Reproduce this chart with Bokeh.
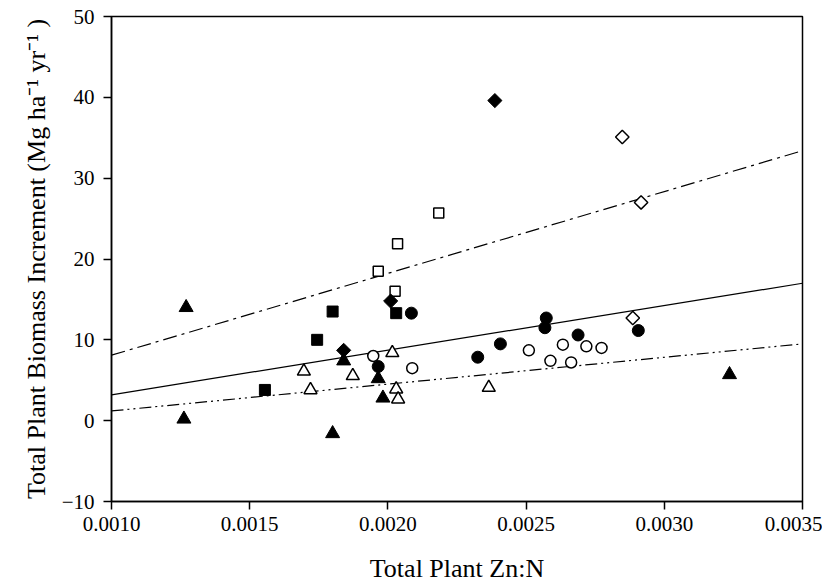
from bokeh.plotting import figure
from bokeh.models import Range1d, FixedTicker, NumeralTickFormatter
from bokeh.embed import file_html
from bokeh.resources import INLINE

# ---- data ----
x_ticks = [0.0010, 0.0015, 0.0020, 0.0025, 0.0030, 0.0035]
y_ticks = [-10, 0, 10, 20, 30, 40, 50]

tri_f_x = [0.00127, 0.001262, 0.00184, 0.00180, 0.001965, 0.001982, 0.003236]
tri_f_y = [14.0, 0.2, 7.4, -1.6, 5.2, 2.8, 5.7]

tri_o_x = [0.001696, 0.00172, 0.001873, 0.002016, 0.00203, 0.002037, 0.002365]
tri_o_y = [6.1, 3.8, 5.55, 8.4, 3.9, 2.65, 4.1]

cir_f_x = [0.001965, 0.002085, 0.002325, 0.002407, 0.002573, 0.002568, 0.002688, 0.002906]
cir_f_y = [6.7, 13.3, 7.85, 9.5, 12.7, 11.5, 10.6, 11.15]

cir_o_x = [0.001947, 0.002088, 0.00251, 0.002588, 0.002633, 0.002663, 0.002718, 0.002773]
cir_o_y = [8.0, 6.5, 8.7, 7.4, 9.4, 7.2, 9.2, 9.0]

sq_f_x = [0.001555, 0.001744, 0.00180, 0.00203]
sq_f_y = [3.8, 10.0, 13.5, 13.3]

sq_o_x = [0.001965, 0.002026, 0.002035, 0.002184]
sq_o_y = [18.5, 16.0, 21.9, 25.7]

dia_f_x = [0.00184, 0.00201, 0.002387]
dia_f_y = [8.7, 14.8, 39.6]

dia_o_x = [0.002886, 0.002916, 0.002848]
dia_o_y = [12.7, 27.0, 35.1]

fit_x = [0.0010, 0.0035]
fit_upper = [8.1, 33.4]
fit_mid = [3.2, 17.0]
fit_lower = [1.2, 9.5]

FONT = "Liberation Serif"

p = figure(width=822, height=585,
           x_range=Range1d(x_ticks[0], x_ticks[-1]),
           y_range=Range1d(y_ticks[0], y_ticks[-1]),
           output_backend="svg", toolbar_location=None,
           min_border_left=111, min_border_right=20,
           min_border_top=16, min_border_bottom=84)

p.background_fill_color = "white"
p.border_fill_color = "white"
p.outline_line_color = "black"
p.outline_line_width = 1.5
p.xgrid.visible = False
p.ygrid.visible = False

for ax in (p.xaxis[0], p.yaxis[0]):
    ax.axis_line_color = "black"
    ax.axis_line_width = 1.5
    ax.major_tick_line_color = "black"
    ax.major_tick_line_width = 1.5
    ax.major_tick_out = 8
    ax.major_tick_in = 0
    ax.minor_tick_line_color = None
    ax.major_label_text_font = FONT
    ax.major_label_text_font_size = "21px"
    ax.major_label_text_color = "black"
    ax.axis_label_text_font = FONT
    ax.axis_label_text_font_size = "26px"
    ax.axis_label_text_font_style = "normal"
    ax.axis_label_text_color = "black"

p.xaxis.ticker = FixedTicker(ticks=x_ticks)
p.yaxis.ticker = FixedTicker(ticks=y_ticks)
p.xaxis.formatter = NumeralTickFormatter(format="0.0000")
p.xaxis.axis_label = "Total Plant Zn:N"
p.yaxis.axis_label = "Total Plant Biomass Increment (Mg ha\u207b\u00b9 yr\u207b\u00b9 )"
p.xaxis.axis_label_standoff = 20
p.yaxis.axis_label_standoff = 8
p.xaxis.major_label_standoff = 7
p.yaxis.major_label_standoff = 9

# fitted lines
p.line(fit_x, fit_upper, line_color="black", line_width=1.2, line_dash="14 5 3 5")
p.line(fit_x, fit_mid, line_color="black", line_width=1.2)
p.line(fit_x, fit_lower, line_color="black", line_width=1.2, line_dash="12 4 2 4 2 4")

lw = 1.5
p.scatter(tri_f_x, tri_f_y, marker="triangle", size=14, fill_color="black", line_color="black", line_width=1)
p.scatter(tri_o_x, tri_o_y, marker="triangle", size=13, fill_color="white", line_color="black", line_width=lw)
p.scatter(cir_f_x, cir_f_y, marker="circle", size=12, fill_color="black", line_color="black", line_width=1)
p.scatter(cir_o_x, cir_o_y, marker="circle", size=11, fill_color="white", line_color="black", line_width=lw)
p.scatter(sq_f_x, sq_f_y, marker="square", size=11, fill_color="black", line_color="black", line_width=1)
p.scatter(sq_o_x, sq_o_y, marker="square", size=10, fill_color="white", line_color="black", line_width=lw)
p.scatter(dia_f_x, dia_f_y, marker="square", angle=0.785398, size=10, fill_color="black", line_color="black", line_width=1)
p.scatter(dia_o_x, dia_o_y, marker="square", angle=0.785398, size=9.5, fill_color="white", line_color="black", line_width=lw)

open("out.html", "w").write(file_html(p, INLINE))
